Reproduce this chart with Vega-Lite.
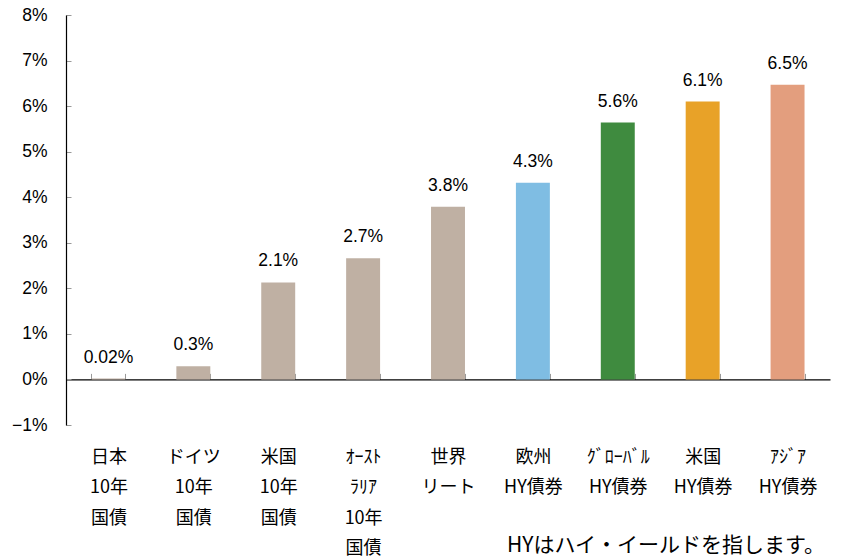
{
  "$schema": "https://vega.github.io/schema/vega-lite/v6.json",
  "width": 764,
  "height": 410,
  "autosize": {"type": "none"},
  "padding": {"left": 66, "top": 15, "right": 11, "bottom": 135},
  "background": "white",
  "config": {"view": {"stroke": null}, "font": "Liberation Sans, Noto Sans CJK JP"},
  "title": {
    "text": "HYはハイ・イールドを指します。",
    "orient": "bottom",
    "anchor": "end",
    "frame": "group",
    "offset": -23,
    "fontSize": 21,
    "fontWeight": "normal",
    "font": "Noto Sans CJK JP",
    "color": "black",
    "dx": -5
  },
  "data": {
    "values": [
      {"cat": "日本|10年|国債", "value": 0.0002, "label": "0.02%", "color": "#bfb0a3"},
      {"cat": "ドイツ|10年|国債", "value": 0.0029, "label": "0.3%", "color": "#bfb0a3"},
      {"cat": "米国|10年|国債", "value": 0.0213, "label": "2.1%", "color": "#bfb0a3"},
      {"cat": "ｵｰｽﾄ|ﾗﾘｱ|10年|国債", "value": 0.0266, "label": "2.7%", "color": "#bfb0a3"},
      {"cat": "世界|リート", "value": 0.0379, "label": "3.8%", "color": "#bfb0a3"},
      {"cat": "欧州|HY債券", "value": 0.0432, "label": "4.3%", "color": "#7fbde3"},
      {"cat": "ｸﾞﾛｰﾊﾞﾙ|HY債券", "value": 0.0564, "label": "5.6%", "color": "#3f8b3f"},
      {"cat": "米国 |HY債券", "value": 0.061, "label": "6.1%", "color": "#e8a228"},
      {"cat": "ｱｼﾞｱ|HY債券", "value": 0.0647, "label": "6.5%", "color": "#e39e7e"}
    ]
  },
  "encoding": {
    "x": {
      "field": "cat",
      "type": "nominal",
      "sort": null,
      "scale": {"paddingInner": 0.6, "paddingOuter": 0.3},
      "axis": {
        "title": null,
        "orient": "bottom",
        "offset": -45.6,
        "labelAngle": 0,
        "labelExpr": "split(datum.label, '|')",
        "labelFont": "Noto Sans CJK JP",
        "labelFontSize": 18,
        "labelLineHeight": 30.5,
        "labelColor": "black",
        "labelPadding": 75,
        "labelBaseline": "top",
        "domainColor": "black",
        "domainWidth": 1.2,
        "tickBand": "extent",
        "tickColor": "#999999",
        "tickSize": -6,
        "tickWidth": 1
      }
    },
    "y": {
      "field": "value",
      "type": "quantitative",
      "scale": {"domain": [-0.01, 0.08], "nice": false, "zero": false},
      "axis": {
        "title": null,
        "format": ".0%",
        "values": [-0.01, 0, 0.01, 0.02, 0.03, 0.04, 0.05, 0.06, 0.07, 0.08],
        "grid": false,
        "domainColor": "black",
        "domainWidth": 1.2,
        "tickColor": "#999999",
        "tickSize": -5,
        "labelFontSize": 17.5,
        "labelColor": "black",
        "labelPadding": 24
      }
    }
  },
  "layer": [
    {
      "mark": {"type": "bar"},
      "encoding": {"color": {"field": "color", "type": "nominal", "scale": null}}
    },
    {
      "mark": {"type": "text", "baseline": "alphabetic", "dy": -16, "fontSize": 17.5, "color": "black"},
      "encoding": {"text": {"field": "label"}}
    }
  ]
}
